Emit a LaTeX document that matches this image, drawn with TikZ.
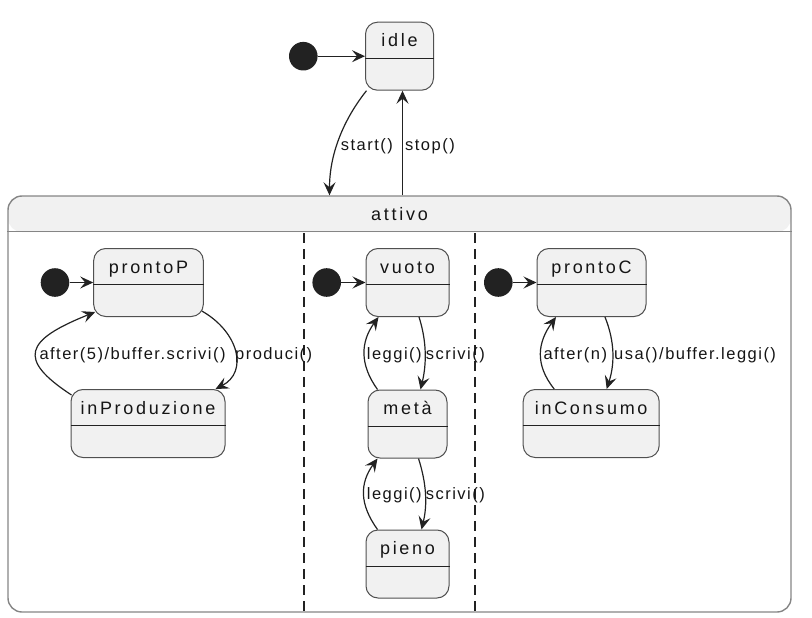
\documentclass[tikz,border=0pt]{standalone}
\usepackage{fontspec}
\setmainfont{Liberation Sans}
\newfontfamily\statefont[LetterSpace=15]{Liberation Sans}
\newfontfamily\labelfont[LetterSpace=9]{Liberation Sans}
\usetikzlibrary{arrows.meta,calc}
\definecolor{statefill}{HTML}{F1F1F1}
\definecolor{stateborder}{HTML}{505050}
\definecolor{framecol}{HTML}{858585}
\definecolor{linecol}{HTML}{222222}
\definecolor{txtcol}{HTML}{151515}
\newcommand\umlstate[5]{%
  \node[statebox, minimum width=#4] (#1) at (#2,#3) {};
  \draw[divider] ([yshift=-2pt]#1.west) -- ([yshift=-2pt]#1.east);
  \node[statename] (#1-n) at ([yshift=-25pt]#1.north) {#5};
}
\begin{document}
\begin{tikzpicture}[x=1pt,y=-1pt,
  statebox/.style={draw=stateborder, fill=statefill, rounded corners=12pt,
    minimum height=68pt, line width=1pt, inner sep=0pt},
  divider/.style={draw=linecol, line width=1pt},
  statename/.style={anchor=base, inner sep=0pt, text=txtcol,
    font=\statefont\fontsize{18}{21}\selectfont},
  lbl/.style={anchor=base west, inner sep=0pt, text=txtcol,
    font=\labelfont\fontsize{16.5}{19}\selectfont},
  trans/.style={draw=linecol, line width=1.2pt,
    -{Stealth[length=13pt,width=12pt,inset=5pt]}},
  initdot/.style={circle, fill=linecol, minimum size=28.6pt, inner sep=0pt},
  compbox/.style={draw=framecol, line width=1.4pt, rounded corners=14pt, inner sep=0pt},
  sepline/.style={draw=linecol, line width=1.8pt, dash pattern=on 10pt off 6pt},
]
\useasboundingbox (0,0) rectangle (812,618);

% composite state
\node[compbox, minimum width=783pt, minimum height=416pt,
  path picture={\fill[statefill] (path picture bounding box.north west)
    rectangle ([yshift=-36pt]path picture bounding box.north east);}]
  (attivo) at (399.5,404) {};
\draw[draw=framecol, line width=1.4pt] ([yshift=-36pt]attivo.north west) -- ([yshift=-36pt]attivo.north east);
\node[statename] (attivo-n) at ([yshift=-25pt]attivo.north) {attivo};
\draw[sepline] ([xshift=297pt,yshift=-38pt]attivo.north west) -- ([xshift=297pt]attivo.south west);
\draw[sepline] ([xshift=468pt,yshift=-38pt]attivo.north west) -- ([xshift=468pt]attivo.south west);

% states
\umlstate{idle}{399.5}{56.2}{68pt}{idle}
\umlstate{prontoP}{148.5}{282.5}{109.6pt}{prontoP}
\umlstate{inProd}{148}{423.5}{154pt}{inProduzione}
\umlstate{vuoto}{407.5}{282.5}{83pt}{vuoto}
\umlstate{meta}{407.5}{424}{79pt}{metà}
\umlstate{pieno}{407.5}{564}{83pt}{pieno}
\umlstate{prontoC}{591.5}{282.5}{109pt}{prontoC}
\umlstate{inCons}{591.2}{423.5}{136pt}{inConsumo}

% initial pseudostates
\node[initdot] (i0) at (303.3,56.2) {};
\node[initdot] (i1) at (55,282.5) {};
\node[initdot] (i2) at (326.7,282.5) {};
\node[initdot] (i3) at (498.3,282.5) {};
\draw[trans] (i0) -- (idle);
\draw[trans] (i1) -- (prontoP);
\draw[trans] (i2) -- (vuoto);
\draw[trans] (i3) -- (prontoC);

% idle <-> attivo
\draw[trans] ([xshift=-33pt]idle.south) .. controls +(-20,25) and +(0,-45) .. ([xshift=-70pt]attivo.north);
\draw[trans] ([xshift=3pt]attivo.north) -- ([xshift=3pt]idle.south);
\node[lbl] (l-start) at (340.7,150) {start()};
\node[lbl] (l-stop) at (405,150) {stop()};

% producer region
\draw[trans] ([xshift=-2pt,yshift=6pt]prontoP.south east) .. controls +(37,21) and +(33,-17) .. ([xshift=-10pt]inProd.north east);
\draw[trans] ([xshift=1pt,yshift=-6pt]inProd.north west) .. controls +(-55,-36) and +(-70,28) .. ([xshift=2pt,yshift=5pt]prontoP.south west);
\node[lbl] (l-after5) at (39.3,359) {after(5)/buffer.scrivi()};
\node[lbl] (l-prod) at (235,359) {produci()};

% buffer region
\draw[trans] ([xshift=11.5pt]vuoto.south) .. controls +(8,25) and +(6,-25) .. ([xshift=13pt]meta.north);
\draw[trans] ([xshift=-30pt]meta.north) .. controls +(-18,-25) and +(-18,25) .. ([xshift=-29pt]vuoto.south);
\draw[trans] ([xshift=11pt]meta.south) .. controls +(8,25) and +(6,-25) .. ([xshift=14pt]pieno.north);
\draw[trans] ([xshift=-30pt]pieno.north) .. controls +(-18,-25) and +(-18,25) .. ([xshift=-30pt]meta.south);
\node[lbl] (l-leggi1) at (366.7,359) {leggi()};
\node[lbl] (l-scrivi1) at (425.7,359) {scrivi()};
\node[lbl] (l-leggi2) at (366.7,499) {leggi()};
\node[lbl] (l-scrivi2) at (425.7,499) {scrivi()};

% consumer region
\draw[trans] ([xshift=13.5pt]prontoC.south) .. controls +(10,25) and +(8,-25) .. ([xshift=15.5pt]inCons.north);
\draw[trans] ([xshift=-37pt]inCons.north) .. controls +(-20,-25) and +(-18,25) .. ([xshift=-35.5pt]prontoC.south);
\node[lbl] (l-aftern) at (543.3,359) {after(n)};
\node[lbl] (l-usa) at (614,359) {usa()/buffer.leggi()};
\end{tikzpicture}
\end{document}
